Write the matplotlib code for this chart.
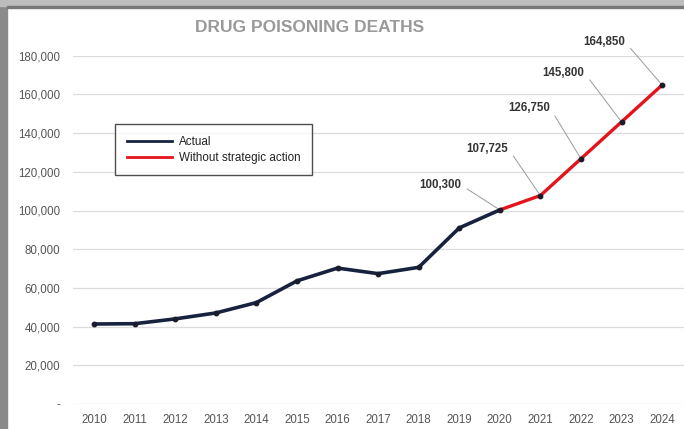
import matplotlib
matplotlib.use("Agg")
import matplotlib.pyplot as plt
from matplotlib.patches import Rectangle
from matplotlib.ticker import FuncFormatter

plt.rcParams['font.family'] = ['Liberation Sans', 'DejaVu Sans']

years_actual = [2010, 2011, 2012, 2013, 2014, 2015, 2016, 2017, 2018, 2019, 2020]
deaths_actual = [41340, 41502, 43982, 47055, 52404, 63632, 70237, 67367, 70630, 91000, 100300]
years_proj = [2020, 2021, 2022, 2023, 2024]
deaths_proj = [100300, 107725, 126750, 145800, 164850]
label_years = [2020, 2021, 2022, 2023, 2024]
label_values = [100300, 107725, 126750, 145800, 164850]
label_texts = ["100,300", "107,725", "126,750", "145,800", "164,850"]
label_offsets = [(-60, 25), (-53, 47), (-52, 51), (-58, 49), (-58, 43)]
yticks = [0, 20000, 40000, 60000, 80000, 100000, 120000, 140000, 160000, 180000]
xticks = list(range(2010, 2025))

W, H = 684, 429
AX_L, AX_R, AX_T, AX_B = 73, 684, 55.7, 404
fig = plt.figure(figsize=(W / 100, H / 100), dpi=100)
ax = fig.add_axes([AX_L / W, 1 - AX_B / H, (AX_R - AX_L) / W, (AX_B - AX_T) / H])

ax.plot(years_proj, deaths_proj, color='#e3141c', lw=2.4, zorder=3, solid_capstyle='round')
ax.plot(years_actual, deaths_actual, color='#17223f', lw=2.6, zorder=4, solid_capstyle='round')
ax.plot(years_actual + years_proj[1:], deaths_actual + deaths_proj[1:], ls='none',
        marker='o', ms=3.2, color='#1b1b2b', zorder=5)

ax.set_ylim(0, 180000)
ax.set_xlim(2009.48, 2024.54)
ax.set_yticks(yticks)
ax.set_xticks(xticks)
ax.yaxis.set_major_formatter(FuncFormatter(lambda v, p: '-' if v == 0 else f"{int(v):,}"))
ax.tick_params(axis='both', length=0, labelsize=8.3, labelcolor='#555555')
ax.tick_params(axis='y', pad=9)
ax.tick_params(axis='x', pad=7)
ax.grid(axis='y', color='#dcdcdc', lw=0.9)
ax.set_axisbelow(True)
for s in ax.spines.values():
    s.set_visible(False)

for yr, val, txt, off in zip(label_years, label_values, label_texts, label_offsets):
    ax.annotate(txt, xy=(yr, val), xytext=off, textcoords='offset pixels',
                ha='center', va='center', fontsize=8.3, fontweight='bold', color='#333333',
                annotation_clip=False,
                arrowprops=dict(arrowstyle='-', color='#9a9a9a', lw=0.7,
                                shrinkA=3, shrinkB=1, relpos=(1, 0.5)))

fig.text(310 / W, 1 - 27 / H, "DRUG POISONING DEATHS", ha='center', va='center',
         fontsize=12.5, fontweight='bold', color='#999999')

leg = ax.legend(handles=[plt.Line2D([], [], color='#17223f', lw=2),
                         plt.Line2D([], [], color='#e3141c', lw=2)],
                labels=["Actual", "Without strategic action"],
                loc='upper left',
                bbox_to_anchor=((115 - AX_L) / (AX_R - AX_L), 1 - (124 - AX_T) / (AX_B - AX_T)),
                borderaxespad=0, fontsize=8.4, frameon=True, fancybox=False, handlelength=3.9,
                borderpad=1.0, labelspacing=0.35, handletextpad=0.6)
leg.get_frame().set_edgecolor('#222222')
leg.get_frame().set_linewidth(1.0)
for t in leg.get_texts():
    t.set_color('#222222')

fig.patches.append(Rectangle((0, 0), 7 / W, 1, transform=fig.transFigure,
                             color='#8a8a8a', zorder=10))
fig.patches.append(Rectangle((0, 1 - 6 / H), 1, 6 / H, transform=fig.transFigure,
                             color='#bdbdbd', zorder=10))
fig.patches.append(Rectangle((7 / W, 1 - 8 / H), 1, 2 / H, transform=fig.transFigure,
                             color='#777777', zorder=10))

fig.savefig("out.png", dpi=100)
